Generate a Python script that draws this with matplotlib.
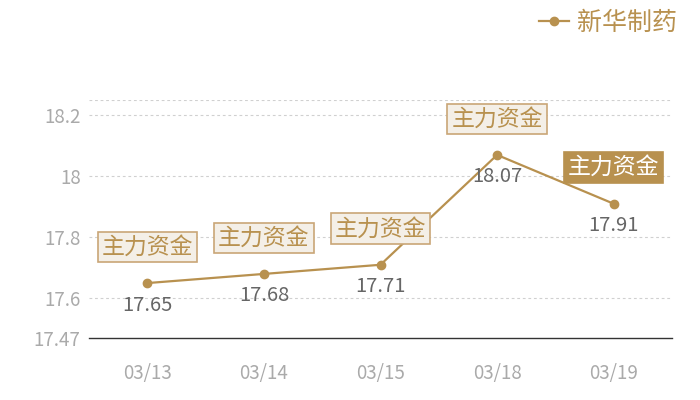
import matplotlib
matplotlib.use("Agg")
import matplotlib.pyplot as plt

plt.rcParams['font.family'] = ['Noto Sans CJK SC', 'DejaVu Sans']

dates = ["03/13", "03/14", "03/15", "03/18", "03/19"]
prices = [17.65, 17.68, 17.71, 18.07, 17.91]
series_name = "新华制药"
tag_text = "主力资金"
y_ticks = [17.47, 17.6, 17.8, 18.0, 18.2]
y_grid = [17.6, 17.8, 18.0, 18.2, 18.25]
y_min, y_max = 17.47, 18.25

gold = "#b8914f"
fig = plt.figure(figsize=(7, 4), dpi=100)
ax = fig.add_axes([89/700, 1-338/400, (672-89)/700, (338-100)/400])

x = list(range(len(dates)))
ax.plot(x, prices, color=gold, lw=1.6, marker='o', ms=6, label=series_name, zorder=3)

ax.set_xlim(-0.5, len(dates)-0.5)
ax.set_ylim(y_min, y_max)
for g in y_grid:
    ax.axhline(g, color="#d0d0d0", lw=0.8, ls=(0, (2.5, 2.5)), zorder=0)

ax.set_yticks(y_ticks)
ax.set_yticklabels([f"{v:g}" for v in y_ticks])
ax.set_xticks(x)
ax.set_xticklabels(dates)
ax.tick_params(axis='both', length=0, colors="#aaaaaa", labelsize=13.5)
ax.tick_params(axis='x', pad=18)
ax.tick_params(axis='y', pad=6)
for s in ['top', 'right', 'left']:
    ax.spines[s].set_visible(False)
ax.spines['bottom'].set_color("#333333")
ax.spines['bottom'].set_linewidth(1)

for i, (xi, yi) in enumerate(zip(x, prices)):
    ax.annotate(f"{yi:.2f}", (xi, yi), xytext=(0, -22), textcoords='offset pixels',
                ha='center', va='center', color="#666666", fontsize=14.5)
    last = i == len(x) - 1
    ax.annotate(tag_text, (xi, yi), xytext=(0, 36), textcoords='offset pixels',
                ha='center', va='center', fontsize=16.5,
                color="white" if last else gold,
                bbox=dict(boxstyle='square,pad=0.17',
                          fc=gold if last else "#f4efe7",
                          ec=gold if last else "#c9a677", lw=1.2),
                zorder=4)

leg = ax.legend(loc='upper right', bbox_to_anchor=(699/700, 1+13/400),
                bbox_transform=fig.transFigure, frameon=False,
                fontsize=18, labelcolor=gold, handlelength=1.2, handletextpad=0.3)

fig.savefig("out.png", dpi=100)
